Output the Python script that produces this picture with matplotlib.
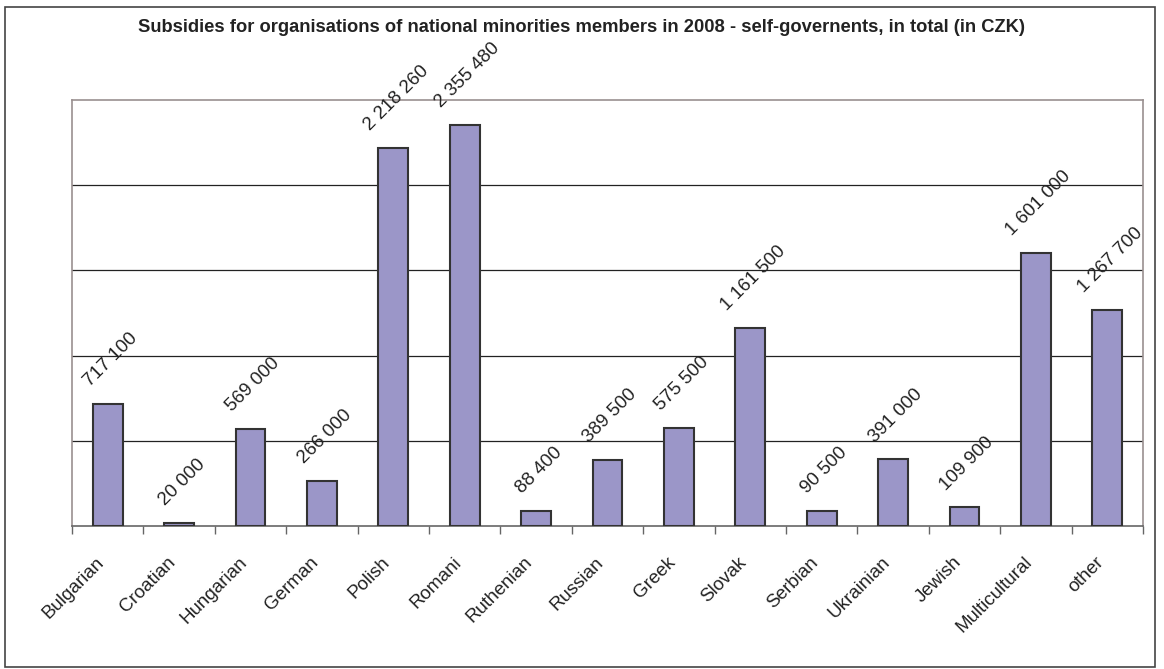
import matplotlib.pyplot as plt
import matplotlib.patches as patches

plt.rcParams.update({
    "font.family": ["Liberation Sans", "DejaVu Sans"],
})

BAR_C = "#9b96c8"
EDGE_C = "#333333"

categories = ["Bulgarian", "Croatian", "Hungarian", "German", "Polish", "Romani",
              "Ruthenian", "Russian", "Greek", "Slovak", "Serbian", "Ukrainian",
              "Jewish", "Multicultural", "other"]
values = [717100, 20000, 569000, 266000, 2218260, 2355480, 88400, 389500,
          575500, 1161500, 90500, 391000, 109900, 1601000, 1267700]
title = "Subsidies for organisations of national minorities members in 2008 - self-governents, in total (in CZK)"

W, H = 1164, 669
fig = plt.figure(figsize=(W / 100, H / 100), dpi=100)
ax = fig.add_axes([72 / W, 1 - 526 / H, (1143 - 72) / W, (526 - 100) / H])

# outer frame
fig.patches.append(patches.Rectangle((5 / W, 2 / H), (1155 - 5) / W, (662 - 2) / H,
                                     transform=fig.transFigure, fill=False,
                                     edgecolor="#444444", lw=1.2))

x = list(range(len(categories)))
ax.bar(x, values, width=0.42, color=BAR_C, edgecolor=EDGE_C, linewidth=1.5, zorder=3)

for xi, v in zip(x, values):
    lab = f"{v:,}".replace(",", " ")
    ax.annotate(lab, (xi, v), xytext=(2, 10), textcoords="offset points",
                rotation=45, ha="center", va="bottom", fontsize=13.5, color="#222222")

ax.set_xlim(-0.5, len(categories) - 0.5)
ax.set_ylim(0, 2500000)
ax.set_yticks([500000, 1000000, 1500000, 2000000])
ax.yaxis.grid(True, color="#222222", lw=0.9, zorder=0)
ax.tick_params(axis="y", length=0, labelleft=False)

ax.set_xticks([i + 0.5 for i in range(-1, len(categories))], minor=False)
ax.set_xticklabels([])
ax.set_xticks(x, minor=True)
ax.set_xticklabels(categories, minor=True, rotation=45, ha="right", fontsize=13.5,
                   color="#222222")
ax.tick_params(axis="x", which="major", direction="out", length=6, width=1, color="#666666")
ax.tick_params(axis="x", which="minor", length=0, pad=20)

for s in ["left", "right", "top"]:
    ax.spines[s].set_color("#9a9090")
    ax.spines[s].set_linewidth(1.2)
ax.spines["bottom"].set_color("#666666")
ax.spines["bottom"].set_linewidth(1.2)

fig.text(0.5, 1 - 28 / H, title, ha="center", va="center", fontsize=13.2,
         fontweight="bold", color="#222222")

fig.savefig("out.png", dpi=100)
